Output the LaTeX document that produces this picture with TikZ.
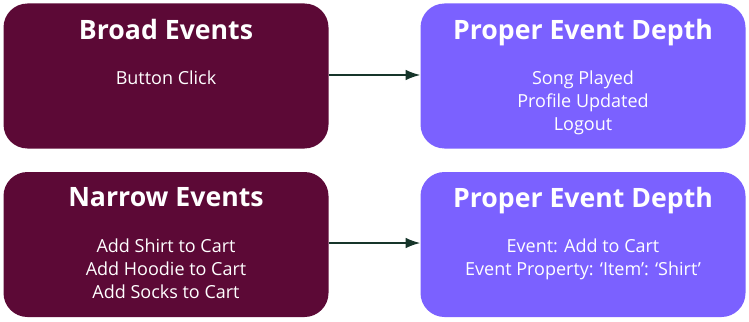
\documentclass[tikz,border=0pt]{standalone}
\usepackage{fontspec}
\setmainfont{Open Sans}
\usetikzlibrary{
    arrows.meta,
    positioning
}
\definecolor{broadfill}{HTML}{5C0936}
\definecolor{depthfill}{HTML}{7B61FF}
\definecolor{arrowcol}{HTML}{16352A}

\begin{document}
\begin{tikzpicture}[
    x=0.75pt,
    y=-0.75pt,
    evbox/.style={
        rectangle,
        rounded corners=18pt,
        draw=none,
        minimum width=243.75pt,
        minimum height=108.75pt,
        inner sep=0pt
    },
    heading/.style={
        font=\fontsize{20}{24}\selectfont\bfseries,
        text=white,
        inner sep=0pt
    },
    items/.style={
        font=\fontsize{13.5}{16.9}\selectfont,
        text=white,
        align=center,
        inner sep=0pt,
        anchor=north
    },
    arrow/.style={
        -{Latex[length=11pt,width=8pt]},
        line width=1.2pt,
        draw=arrowcol
    }
]
\useasboundingbox (0,0) rectangle (749,321);

% =========================================================
% Boxes
% =========================================================
\node[evbox, fill=broadfill] (broad) at (166,76) {};
\node[evbox, fill=depthfill] (depthtop) at (583,76) {};
\node[evbox, fill=broadfill] (narrow) at (166,244.5) {};
\node[evbox, fill=depthfill] (depthbot) at (583,244.5) {};

% =========================================================
% Headings
% =========================================================
\node[heading, below=11.5pt of broad.north] (broadtitle) {Broad Events};
\node[heading, below=11.5pt of depthtop.north] (depthtoptitle) {Proper Event Depth};
\node[heading, below=11.5pt of narrow.north] (narrowtitle) {Narrow Events};
\node[heading, below=11.5pt of depthbot.north] (depthbottitle) {Proper Event Depth};

% =========================================================
% Event lists
% =========================================================
\node[items] (broadlist) at (166,71) {Button Click};
\node[items] (depthtoplist) at (583,71)
{Song Played\\Profile Updated\\Logout};
\node[items] (narrowlist) at (166,239)
{Add Shirt to Cart\\Add Hoodie to Cart\\Add Socks to Cart};
\node[items] (depthbotlist) at (583,239)
{Event: Add to Cart\\Event Property: ‘Item’: ‘Shirt’};

% =========================================================
% Arrows
% =========================================================
\draw[arrow] (broad.east |- 0,75) -- (depthtop.west |- 0,75);
\draw[arrow] (narrow.east |- 0,243) -- (depthbot.west |- 0,243);

\end{tikzpicture}
\end{document}
